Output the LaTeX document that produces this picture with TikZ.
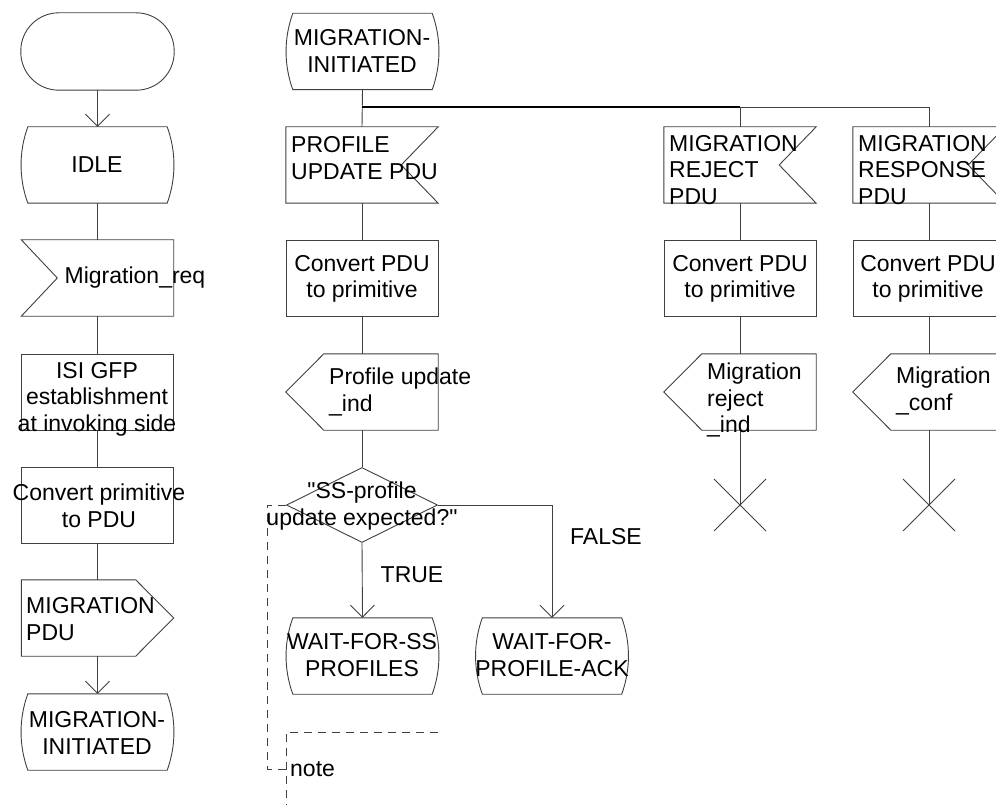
\documentclass[tikz,border=0pt]{standalone}
\usepackage{fontspec}
\setmainfont{Liberation Sans}[Ligatures=TeXOff]
\usetikzlibrary{arrows.meta,shapes.geometric,calc}
\newcommand{\drawstate}[1]{%
  \draw[ln] ([xshift=7pt]#1.north west) -- ([xshift=-7pt]#1.north east)
    .. controls ([xshift=2pt,yshift=-25pt]#1.north east) and ([xshift=2pt,yshift=25pt]#1.south east) .. ([xshift=-7pt]#1.south east)
    -- ([xshift=7pt]#1.south west)
    .. controls ([xshift=-2pt,yshift=25pt]#1.south west) and ([xshift=-2pt,yshift=-25pt]#1.north west) .. cycle;}
\newcommand{\drawinleft}[1]{%
  \draw[ln] (#1.north west) -- (#1.north east) -- (#1.south east) -- (#1.south west) -- ([xshift=36pt]#1.west) -- cycle;}
\newcommand{\drawinright}[1]{%
  \draw[ln] (#1.north west) -- (#1.north east) -- ([xshift=-37pt]#1.east) -- (#1.south east) -- (#1.south west) -- cycle;}
\newcommand{\drawoutright}[1]{%
  \draw[ln] (#1.north west) -- ([xshift=-38pt]#1.north east) -- (#1.east) -- ([xshift=-38pt]#1.south east) -- (#1.south west) -- cycle;}
\newcommand{\drawoutleft}[1]{%
  \draw[ln] (#1.west) -- ([xshift=38pt]#1.north west) -- (#1.north east) -- (#1.south east) -- ([xshift=38pt]#1.south west) -- cycle;}
\newcommand{\drawcross}[1]{%
  \draw[ln] ([shift={(-26,-26)}]#1) -- ([shift={(26,26)}]#1);
  \draw[ln] ([shift={(26,-26)}]#1) -- ([shift={(-26,26)}]#1);}
\begin{document}
\begin{tikzpicture}[x=1pt,y=-1pt]
\tikzset{
 ln/.style={draw=black!75, line width=0.9pt},
 shp/.style={rectangle, minimum width=152pt, minimum height=76pt, inner sep=0pt},
 task/.style={shp, ln},
 txt/.style={font=\fontsize{23}{26.5}\selectfont, inner sep=0pt, align=center, text=black},
 ltxt/.style={txt, align=left, anchor=west},
 arr/.style={ln, -{Straight Barb[length=12pt,width=24pt]}},
 dsh/.style={ln, dash pattern=on 8pt off 6pt},
}
\clip (0,0) rectangle (996,805);
\fill[white] (0,0) rectangle (996,805);

% ---------- column 1 ----------
\node[shp, minimum width=153pt, minimum height=77pt] (start) at (97.5,51.5) {};
\draw[ln, rounded corners=38pt] (start.north west) rectangle (start.south east);
\node[shp, minimum width=153pt] (idle) at (97.5,165) {};
\drawstate{idle}
\node[shp] (mreq) at (97.5,278) {};
\drawinleft{mreq}
\node[task] (isi) at (97.5,392) {};
\node[task] (conv1) at (97.5,505) {};
\node[shp] (mpdu) at (97.5,618) {};
\drawoutright{mpdu}
\node[shp, minimum width=153pt] (mi1) at (97.5,732) {};
\drawstate{mi1}

\draw[arr] (start.south) -- (idle.north);
\draw[ln] (idle.south) -- (mreq.north);
\draw[ln] (mreq.south) -- (isi.north);
\draw[ln] (isi.south) -- (conv1.north);
\draw[ln] (conv1.south) -- (mpdu.north);
\draw[arr] (mpdu.south) -- (mi1.north);

\node[txt] (tidle) at (97,165) {IDLE};
\node[txt] (tmreq) at (135,278) {Migration\_req};
\node[txt] (tisi) at (97,399) {ISI GFP\\establishment\\at invoking side};
\node[txt] (tconv1) at (99,506) {Convert primitive\\to PDU};
\node[ltxt] (tmpdu) at (26,619) {MIGRATION\\PDU};
\node[txt] (tmi1) at (97,733) {MIGRATION-\\INITIATED};

% ---------- column 2 ----------
\node[shp, minimum width=153pt] (mi2) at (362.5,51.5) {};
\drawstate{mi2}
\coordinate (j) at (362,107);
\node[shp] (pup) at (362,165) {};
\drawinright{pup}
\node[task] (conv2) at (362,278) {};
\node[shp] (pind) at (362,392) {};
\drawoutleft{pind}
\node[diamond, ln, minimum width=151pt, minimum height=75pt, inner sep=0pt] (dec) at (362,505) {};
\node[shp, minimum width=153pt] (wss) at (362.5,656) {};
\drawstate{wss}
\node[shp, minimum width=153pt] (wpa) at (552,656) {};
\drawstate{wpa}

\draw[ln] (mi2.south) -- (pup.north);
\draw[ln] (pup.south) -- (conv2.north);
\draw[ln] (conv2.south) -- (pind.north);
\draw[ln] (pind.south) -- (dec.north);
\draw[arr] (dec.south) -- (wss.north);
\draw[arr] (dec.east) -| (wpa.north);

\node[txt] (tmi2) at (362,51) {MIGRATION-\\INITIATED};
\node[ltxt] (tpup) at (291,158) {PROFILE\\UPDATE PDU};
\node[txt] (tconv2) at (362,279) {Convert PDU\\to primitive};
\node[ltxt] (tpind) at (329,392) {Profile update\\\_ind};
\node[txt] (tdec) at (362,506) {"SS-profile\\update expected?"};
\node[txt] (ttrue) at (412,575) {TRUE};
\node[txt] (tfalse) at (606,537) {FALSE};
\node[txt] (twss) at (362,655) {WAIT-FOR-SS\\PROFILES};
\node[txt] (twpa) at (552,655) {WAIT-FOR-\\PROFILE-ACK};

% note
\coordinate (nc) at (286,769);
\coordinate (nbt) at (286,732);
\coordinate (nbr) at (438,732);
\coordinate (nbb) at (286,806);
\draw[dsh] (dec.west) -- ++(-19,0) |- (nc);
\draw[dsh] (nbr) -- (nbt) -- (nbb);
\node[ltxt] (tnote) at (290,769) {note};

% ---------- column 3 ----------
\node[shp] (mrej) at (740,165) {};
\drawinright{mrej}
\node[task] (conv3) at (740,278) {};
\node[shp] (rind) at (740,392) {};
\drawoutleft{rind}
\coordinate (x3) at (740,505);

\draw[ln] (mrej.south) -- (conv3.north);
\draw[ln] (conv3.south) -- (rind.north);
\draw[ln] (rind.south) -- (x3);
\drawcross{x3}

\node[ltxt] (tmrej) at (669,170) {MIGRATION\\REJECT\\PDU};
\node[txt] (tconv3) at (740,279) {Convert PDU\\to primitive};
\node[ltxt] (trind) at (707,400) {Migration\\reject\\\_ind};

% ---------- column 4 ----------
\node[shp] (mresp) at (929,165) {};
\drawinright{mresp}
\node[task] (conv4) at (929,278) {};
\node[shp] (cind) at (929,392) {};
\drawoutleft{cind}
\coordinate (x4) at (929,505);

\draw[ln] (j) -| (mresp.north);
\draw[ln] (j) -| (mrej.north);
\draw[line width=1.3pt, draw=black] (j) -- (j -| mrej.north);
\draw[ln] (mresp.south) -- (conv4.north);
\draw[ln] (conv4.south) -- (cind.north);
\draw[ln] (cind.south) -- (x4);
\drawcross{x4}

\node[ltxt] (tmresp) at (858,170) {MIGRATION\\RESPONSE\\PDU};
\node[txt] (tconv4) at (928,279) {Convert PDU\\to primitive};
\node[ltxt] (tcind) at (896,391) {Migration\\\_conf};
\end{tikzpicture}
\end{document}
